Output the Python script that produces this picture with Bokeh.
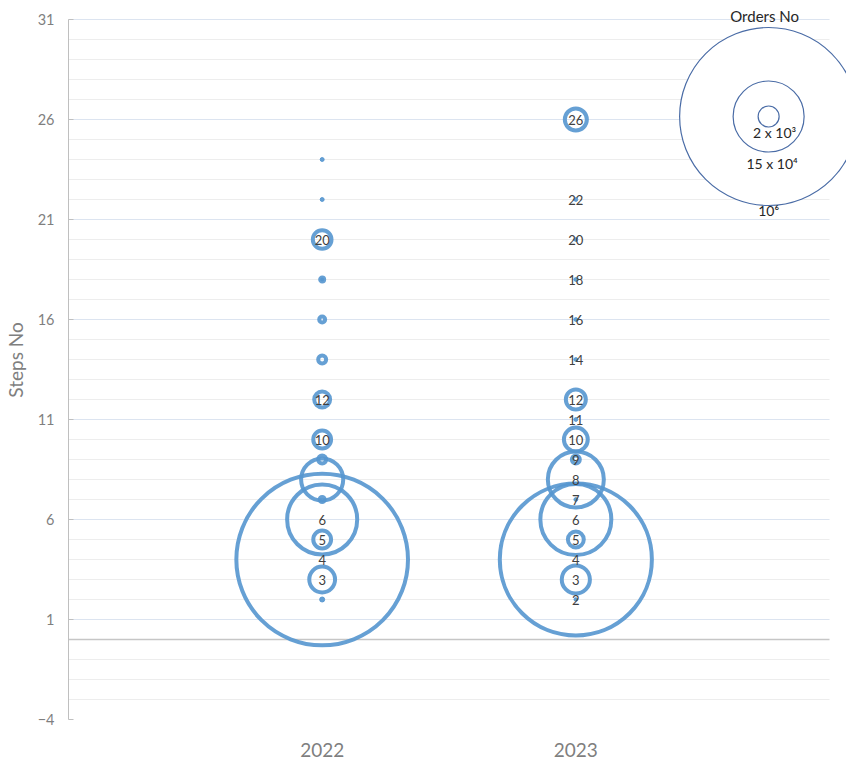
from bokeh.plotting import figure
from bokeh.models import FixedTicker, Span, BoxAnnotation, Label, ColumnDataSource
from bokeh.core.properties import value
from bokeh.embed import file_html
from bokeh.resources import INLINE
import numpy as np

# ---------------- data ----------------
years = ["2022", "2023"]

steps_2022 = [2, 3, 4, 5, 6, 7, 8, 9, 10, 12, 14, 16, 18, 20, 22, 24]
orders_2022 = [130, 21000, 930000, 10000, 155000, 800, 56000, 2000, 10000,
               8000, 2000, 1100, 500, 11000, 30, 30]
labels_2022 = ["", "3", "4", "5", "6", "", "", "", "10", "12", "", "", "", "20", "", ""]

steps_2023 = [2, 3, 4, 5, 6, 7, 8, 9, 10, 11, 12, 14, 16, 18, 20, 22, 26]
orders_2023 = [10, 25000, 730000, 8000, 159000, 20, 99000, 2000, 18000, 20,
               12600, 20, 20, 20, 20, 20, 15300]
labels_2023 = ["2", "3", "4", "5", "6", "7", "8", "9", "10", "11", "12",
               "14", "16", "18", "20", "22", "26"]

y_ticks = [-4, 1, 6, 11, 16, 21, 26, 31]
legend_title = "Orders No"
legend_labels = ["2 x 10\u00b3", "15 x 10\u2074", "10\u2076"]

# ---------------- style ----------------
PX_PER_SQRT = 0.089          # bubble radius (px) per sqrt(order)
BUBBLE_COLOR = "#5596cf"
GREY = "#7f7f7f"
FONT = "Lato"

p = figure(width=846, height=762, output_backend="svg", toolbar_location=None,
           x_range=(0, 3.067), y_range=(-4, 31.95),
           min_border_left=67, min_border_right=0, min_border_top=0,
           min_border_bottom=43, outline_line_color=None,
           background_fill_color="white", border_fill_color="white")

# grid
p.xgrid.visible = False
p.ygrid.ticker = FixedTicker(ticks=y_ticks, minor_ticks=list(range(y_ticks[0], y_ticks[-1] + 1)))
p.ygrid.grid_line_color = "#dce4f0"
p.ygrid.grid_line_width = 1
p.ygrid.minor_grid_line_color = "#ededed"
p.ygrid.minor_grid_line_width = 1
p.ygrid.level = "image"

zero_line = Span(location=0, dimension="width", line_color="#c6c6c6", line_width=1.3, level="image")
p.add_layout(zero_line)
# cover grid beyond last category slot
p.add_layout(BoxAnnotation(left=3, fill_color="white", fill_alpha=1.0, line_color=None, level="underlay"))

# y axis
p.yaxis.ticker = FixedTicker(ticks=y_ticks)
p.yaxis.bounds = (y_ticks[0], y_ticks[-1])
p.yaxis.axis_line_color = "#bfbfbf"
p.yaxis.major_tick_line_color = "#bfbfbf"
p.yaxis.major_tick_in = 5
p.yaxis.major_tick_out = 0
p.yaxis.minor_tick_line_color = None
p.yaxis.major_label_text_font = FONT
p.yaxis.major_label_text_font_size = "14.5px"
p.yaxis.major_label_text_color = GREY
p.yaxis.major_label_standoff = 14
p.yaxis.axis_label = "Steps No"
p.yaxis.axis_label_text_font = FONT
p.yaxis.axis_label_text_font_style = "normal"
p.yaxis.axis_label_text_font_size = "19px"
p.yaxis.axis_label_text_color = GREY
p.yaxis.axis_label_standoff = 8

# x axis
p.xaxis.ticker = FixedTicker(ticks=[1, 2])
p.xaxis.major_label_overrides = {i + 1: y for i, y in enumerate(years)}
p.xaxis.axis_line_color = None
p.xaxis.major_tick_line_color = None
p.xaxis.minor_tick_line_color = None
p.xaxis.major_label_text_font = FONT
p.xaxis.major_label_text_font_size = "19px"
p.xaxis.major_label_text_color = GREY
p.xaxis.major_label_standoff = 17

# bubbles
for i, (steps, orders, labels) in enumerate([(steps_2022, orders_2022, labels_2022),
                                             (steps_2023, orders_2023, labels_2023)]):
    xs = [i + 1] * len(steps)
    radii = [PX_PER_SQRT * np.sqrt(o) for o in orders]
    tiny = [r < 1.5 for r in radii]
    sizes = [2 * r + 3 if t else 2 * r for r, t in zip(radii, tiny)]
    fills = [0.9 if r < 2.5 else 0.0 for r in radii]
    widths = [1 if t else 4 for t in tiny]
    src = ColumnDataSource(dict(x=xs, y=steps, size=sizes, fa=fills, lw=widths, label=labels))
    p.scatter("x", "y", size="size", source=src, marker="circle",
              fill_color=BUBBLE_COLOR, fill_alpha="fa",
              line_color=BUBBLE_COLOR, line_width="lw", line_alpha=0.9)
    p.text("x", "y", text="label", source=src, text_align="center", text_baseline="middle",
           text_font=value(FONT), text_font_size="13px", text_color="#404040")

# size legend
LEG_X, LEG_Y = 2.76, 26.15
legend_radii = [89, 35.5, 10.5]
p.scatter([LEG_X] * 3, [LEG_Y] * 3, size=[2 * r for r in legend_radii], marker="circle",
          fill_color="white", line_color="#4a6ca6", line_width=1.2)

p.add_layout(Label(x=LEG_X, y=LEG_Y, x_offset=-4, y_offset=101, text=legend_title,
                   text_align="center", text_baseline="middle", text_font=FONT,
                   text_font_size="15px", text_color="#262626"))
label_offsets = [(6, -16), (3.5, -47), (0, -94)]
for txt, (dx, dy) in zip(legend_labels, label_offsets):
    p.add_layout(Label(x=LEG_X, y=LEG_Y, x_offset=dx, y_offset=dy, text=txt,
                       text_align="center", text_baseline="middle", text_font=FONT,
                       text_font_size="14px", text_color="#262626"))

open("out.html", "w").write(file_html(p, INLINE))
